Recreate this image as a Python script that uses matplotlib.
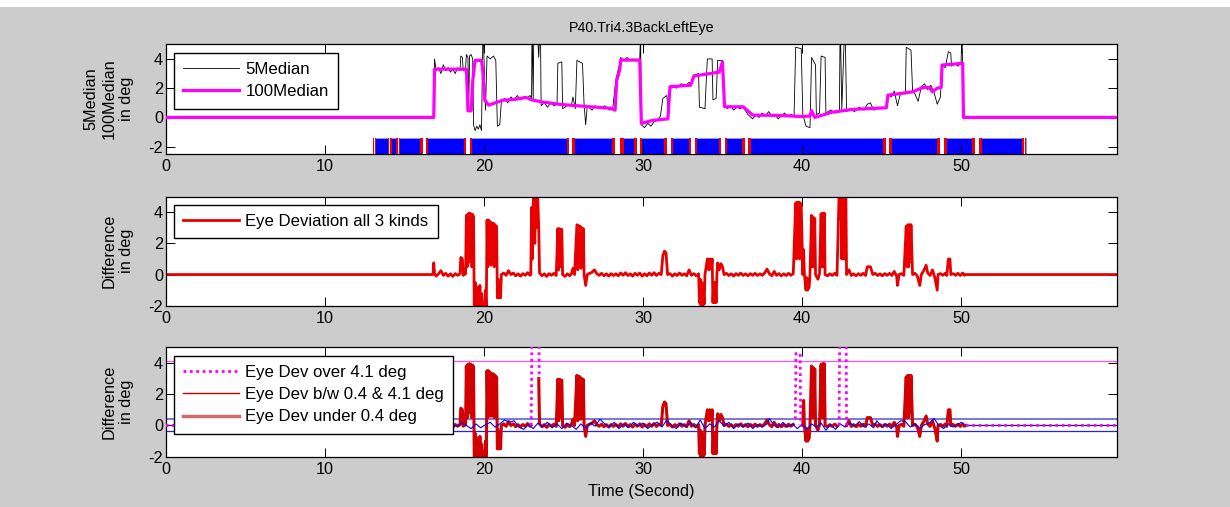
import numpy as np
import matplotlib
matplotlib.use("Agg")
import matplotlib.pyplot as plt
from matplotlib.lines import Line2D
from matplotlib.patches import Rectangle

plt.rcParams['font.family'] = ['Liberation Sans', 'DejaVu Sans']
plt.rcParams['font.size'] = 11.7
plt.rcParams['axes.unicode_minus'] = False

# ---------------- data ----------------
title = "P40.Tri4.3BackLeftEye"
x_max = 59.8
x_ticks = [0, 10, 20, 30, 40, 50]
y_ticks = [-2, 0, 2, 4]

# 100-sample median (magenta)
median100_pts = [
    (0, 0), (16.85, 0), (16.9, 3.3), (18.9, 3.3), (18.95, 2.0), (19.0, 0.45), (19.2, 0.45),
    (19.3, 2.5), (19.45, 3.9), (19.85, 3.9), (19.95, 3.0), (20.05, 1.2), (20.3, 0.84),
    (21.2, 1.18), (21.95, 1.23), (22.65, 1.37), (23.0, 1.2), (23.6, 1.07), (24.8, 0.89),
    (25.85, 0.8), (26.7, 0.73), (28.0, 0.62), (28.25, 0.5), (28.35, 2.5), (28.55, 3.3),
    (28.6, 3.92), (29.8, 3.92), (29.9, -0.41), (30.6, -0.2), (31.57, -0.1), (31.7, 2.1),
    (33.0, 2.2), (33.2, 2.83), (34.2, 3.0), (34.8, 3.1), (35.0, 3.8), (35.13, 0.73),
    (36.3, 0.73), (36.9, 0.16), (38.5, 0.14), (40.0, 0.06), (40.5, 0.1), (40.6, 0.45),
    (40.8, 0.0), (41.9, 0.36), (43.2, 0.55), (45.3, 0.66), (45.4, 1.52), (46.95, 1.75),
    (47.6, 2.05), (48.0, 2.05), (48.2, 1.75), (48.5, 2.0), (48.75, 2.05), (48.8, 3.58),
    (50.1, 3.7), (50.15, 0), (59.8, 0),
]

# 5-sample median (black)
median5_pts = [
    (0, 0), (16.85, 0), (16.9, 4.0), (17.0, 3.2), (17.15, 3.4), (17.3, 3.0), (17.45, 3.6),
    (17.6, 3.2), (17.75, 3.4), (17.9, 3.1), (18.05, 3.3), (18.2, 3.0), (18.35, 3.4), (18.5, 3.2),
    (18.55, 4.2), (18.65, 4.1), (18.7, 3.2), (18.85, 3.3), (18.9, 4.3), (19.0, 4.1), (19.05, 0.6),
    (19.1, 4.2), (19.2, 4.3), (19.3, 4.0), (19.35, -0.5), (19.45, -0.9), (19.55, -0.6),
    (19.65, -0.8), (19.75, -0.5), (19.85, -0.9), (19.95, 6.5), (20.0, 4.3), (20.1, 0.5),
    (20.2, 4.2), (20.4, 4.0), (20.6, 4.2), (20.75, 3.9), (20.85, -0.6), (21.0, -0.5), (21.1, 1.1),
    (21.3, 1.3), (21.5, 1.0), (21.7, 1.4), (21.9, 1.2), (22.1, 1.5), (22.3, 1.2), (22.5, 1.4),
    (22.7, 1.3), (22.9, 1.5), (23.0, 1.3), (23.03, 7), (23.1, 1.2), (23.15, 7), (23.3, 7),
    (23.45, 4.1), (23.55, 7), (23.6, 0.8), (23.8, 1.0), (24.0, 0.7), (24.2, 1.0), (24.4, 0.8),
    (24.6, 0.9), (24.65, 3.7), (24.9, 3.8), (24.95, 0.6), (25.1, 0.7), (25.3, 0.9), (25.5, 0.8),
    (25.6, 1.4), (25.75, 0.6), (25.85, 3.9), (26.2, 3.7), (26.3, 0.9), (26.4, -0.5), (26.5, 0.8),
    (26.8, 0.5), (27.0, 0.8), (27.3, 0.6), (27.6, 0.8), (27.9, 0.5), (28.1, 0.6), (28.3, 2.6),
    (28.5, 3.5), (28.6, 4.1), (28.8, 3.9), (29.0, 4.1), (29.2, 3.9), (29.4, 4.0), (29.6, 3.9),
    (29.8, 4.0), (29.85, 5.8), (29.9, -0.5), (30.1, -0.7), (30.3, -0.4), (30.5, -0.6),
    (30.7, -0.3), (30.9, -0.2), (31.1, 0.1), (31.25, 1.3), (31.5, 1.5), (31.6, 0.2), (31.7, 2.1),
    (31.9, 2.2), (32.1, 2.0), (32.4, 2.3), (32.7, 2.2), (32.9, 2.4), (33.0, 2.2), (33.2, 2.9),
    (33.5, 3.0), (33.55, 0.7), (33.9, 0.6), (34.0, 3.0), (34.05, 4.0), (34.35, 4.0), (34.4, 1.2),
    (34.6, 1.3), (34.7, 3.9), (35.0, 3.9), (35.13, 0.8), (35.3, 0.6), (35.5, 0.8), (35.7, 0.5),
    (35.9, 0.7), (36.1, 0.6), (36.3, 0.7), (36.6, 0.2), (36.9, -0.1), (37.1, 0.2), (37.3, 0.0),
    (37.5, 0.3), (37.7, 0.1), (37.9, 0.4), (38.1, 0.1), (38.3, 0.2), (38.5, -0.1), (38.7, 0.1),
    (38.9, 0.3), (39.1, 0.1), (39.3, 0.2), (39.5, 0.1), (39.6, 4.8), (39.95, 4.7), (40.05, 0.2),
    (40.25, -0.6), (40.5, -0.7), (40.6, 4.1), (40.85, 3.6), (40.9, 0.2), (41.1, 0.3), (41.2, 4.2),
    (41.45, 4.1), (41.5, 0.3), (41.8, 0.5), (42.1, 0.3), (42.35, 0.4), (42.4, 7), (42.5, 0.5),
    (42.7, 7), (42.8, 0.4), (43.0, 0.6), (43.3, 0.4), (43.6, 0.7), (43.9, 0.5), (44.1, 0.9),
    (44.3, 1.0), (44.5, 0.5), (44.8, 0.7), (45.1, 0.6), (45.3, 0.7), (45.4, 1.6), (45.6, 1.4),
    (45.8, 1.8), (46.0, 0.8), (46.2, 1.7), (46.5, 1.6), (46.55, 4.8), (46.85, 4.6), (46.95, 1.8),
    (47.1, 1.6), (47.3, 1.1), (47.5, 2.1), (47.7, 2.3), (47.9, 1.9), (48.1, 2.2), (48.3, 1.7),
    (48.5, 0.9), (48.7, 1.4), (48.8, 3.6), (49.0, 3.4), (49.2, 4.5), (49.35, 4.4), (49.4, 3.5),
    (49.6, 3.7), (49.8, 3.5), (50.0, 3.8), (50.05, 6), (50.1, 3.6), (50.15, 0), (59.8, 0),
]

# eye deviation (difference), all kinds
diff_pts = [
    (0, 0), (16.8, 0), (16.85, 0.75), (16.9, 0.05), (17.0, -0.1), (17.15, 0.05), (17.3, 0.25),
    (17.45, -0.05), (17.6, 0.08), (17.75, -0.1), (17.9, 0.05), (18.05, -0.12), (18.2, 0.06),
    (18.35, -0.05), (18.5, 0.05), (18.55, 1.1), (18.65, 1.0), (18.7, -0.05), (18.85, 0.05),
    (18.9, 3.8), (18.95, 0.5), (19.0, 3.9), (19.05, 0.8), (19.1, 3.95), (19.15, 1.0), (19.2, 3.9),
    (19.25, 0.5), (19.3, 3.85), (19.35, 3.7),
    (19.4, -2.5), (19.45, -0.5), (19.5, -2.5), (19.55, -0.8), (19.6, -2.5), (19.65, -1.0),
    (19.7, -2.5), (19.75, -0.7), (19.8, -2.5), (19.85, -1.2), (19.9, -2.5), (20.0, -2.5),
    (20.1, -1.0), (20.15, -2.5),
    (20.2, 3.5), (20.25, 0.5), (20.3, 3.5), (20.35, 0.8), (20.4, 3.4), (20.45, 0.6), (20.5, 3.3),
    (20.55, 1.0), (20.6, 3.3), (20.65, 0.5), (20.7, 3.2), (20.75, 0.8), (20.8, 3.1),
    (20.85, -1.5), (20.9, -0.3), (20.95, -1.5), (21.0, -0.5), (21.05, -1.5), (21.1, 0.0),
    (21.25, 0.1), (21.4, -0.05), (21.55, 0.25), (21.7, 0.0), (21.85, 0.1), (22.0, -0.08),
    (22.15, 0.05), (22.3, -0.1), (22.45, 0.06), (22.6, -0.05), (22.75, 0.12), (22.9, -0.05),
    (22.95, 0.0),
    (23.0, 4.3), (23.05, 1.0), (23.1, 4.4), (23.15, 6), (23.2, 2.0), (23.25, 6), (23.3, 3.0),
    (23.35, 6), (23.4, 4.5), (23.45, 3.0), (23.5, 0.1),
    (23.65, -0.08), (23.8, 0.05), (23.95, -0.12), (24.1, 0.06), (24.25, -0.05), (24.4, 0.08),
    (24.55, -0.06),
    (24.65, 2.95), (24.7, 0.3), (24.75, 2.95), (24.8, 0.5), (24.85, 2.9), (24.9, 2.9), (24.95, 0.0),
    (25.1, -0.12), (25.25, 0.05), (25.4, -0.08), (25.5, 0.05), (25.6, 0.4), (25.7, 0.0),
    (25.85, 3.2), (25.9, 0.3), (25.95, 3.15), (26.0, 0.5), (26.05, 3.1), (26.1, 0.4), (26.15, 3.0),
    (26.2, 0.5), (26.25, 2.95), (26.3, 0.0), (26.4, -0.7), (26.5, 0.0),
    (26.65, 0.08), (26.8, 0.15), (26.95, 0.3), (27.1, 0.05), (27.25, -0.05), (27.4, 0.08),
    (27.55, -0.08), (27.7, 0.05), (27.85, -0.1), (28.0, 0.06), (28.15, -0.06), (28.3, 0.05),
    (28.45, -0.08), (28.6, 0.1), (28.75, -0.05), (28.9, 0.12), (29.05, -0.06), (29.2, 0.05),
    (29.35, -0.1), (29.5, 0.08), (29.65, -0.05), (29.8, 0.1), (29.95, -0.1), (30.1, 0.05),
    (30.25, -0.08), (30.4, 0.1), (30.55, -0.05), (30.7, 0.12), (30.85, -0.06), (31.0, 0.08),
    (31.15, 0.0),
    (31.25, 1.2), (31.35, 1.5), (31.45, 1.4), (31.55, 0.0),
    (31.7, 0.06), (31.85, -0.1), (32.0, 0.05), (32.15, -0.06), (32.3, 0.1), (32.45, -0.05),
    (32.6, 0.05), (32.75, -0.08), (32.9, 0.3), (33.05, -0.05), (33.2, 0.06), (33.35, -0.08),
    (33.5, 0.05),
    (33.55, -1.8), (33.6, -0.3), (33.65, -2.1), (33.7, -0.5), (33.75, -2.1), (33.8, -1.0),
    (33.85, -1.9), (33.9, 0.0),
    (34.05, 1.0), (34.15, 0.3), (34.2, 1.0), (34.3, 0.4), (34.35, 1.0), (34.4, -1.8), (34.45, -0.5),
    (34.5, -1.8), (34.55, -0.5), (34.6, -1.8), (34.65, 0.0), (34.7, 0.75), (34.8, 0.3),
    (34.9, 0.7), (35.0, 0.5), (35.1, 0.0),
    (35.25, 0.08), (35.4, -0.06), (35.55, 0.05), (35.7, -0.1), (35.85, 0.06), (36.0, -0.05),
    (36.15, 0.1), (36.3, -0.06), (36.45, 0.05), (36.6, -0.08), (36.75, 0.06), (36.9, -0.05),
    (37.05, 0.08), (37.2, -0.06), (37.35, 0.05), (37.5, -0.05), (37.65, 0.1), (37.8, 0.35),
    (37.95, 0.05), (38.1, -0.08), (38.25, 0.2), (38.4, -0.05), (38.55, 0.06), (38.7, -0.08),
    (38.85, 0.05), (39.0, -0.06), (39.15, 0.08), (39.3, -0.05), (39.45, 0.06),
    (39.6, 4.6), (39.65, 1.0), (39.7, 4.65), (39.75, 1.5), (39.8, 4.65), (39.85, 1.0), (39.9, 4.6),
    (39.95, 4.5), (40.05, 0.0),
    (40.1, 1.6), (40.15, 0.0),
    (40.25, -1.0), (40.3, -0.2), (40.35, -1.0), (40.45, -0.8), (40.5, 0.0),
    (40.6, 3.8), (40.65, 0.5), (40.7, 3.7), (40.75, 0.5), (40.8, 3.6), (40.85, 0.0),
    (41.0, -0.3), (41.1, 0.05),
    (41.2, 3.9), (41.25, 0.5), (41.3, 3.95), (41.35, 0.5), (41.4, 3.95), (41.45, 0.0),
    (41.6, -0.08), (41.75, 0.05), (41.9, -0.06), (42.05, 0.08), (42.2, -0.05),
    (42.35, 6), (42.4, 3.6), (42.45, 6), (42.5, 1.0), (42.55, 6), (42.6, 1.0), (42.65, 6),
    (42.7, 1.0), (42.75, 6), (42.8, 0.0),
    (42.95, 0.3), (43.1, -0.06), (43.25, 0.05), (43.4, -0.08), (43.55, 0.06), (43.7, -0.05),
    (43.85, 0.08), (44.0, -0.06), (44.1, 0.5), (44.3, 0.5), (44.45, 0.0), (44.6, 0.08),
    (44.75, -0.06), (44.9, 0.05), (45.05, -0.08), (45.2, 0.06), (45.35, -0.05), (45.5, 0.08),
    (45.65, -0.06), (45.8, 0.2), (45.95, -0.1), (46.0, -0.7), (46.1, 0.0), (46.25, 0.06),
    (46.4, -0.05),
    (46.55, 3.1), (46.6, 0.5), (46.65, 3.2), (46.7, 0.5), (46.75, 3.2), (46.8, 0.8), (46.85, 3.2),
    (46.95, 0.0),
    (47.1, 0.08), (47.25, -0.1), (47.4, -0.7), (47.5, 0.0), (47.65, 0.25), (47.8, 0.6),
    (47.9, 0.1), (48.05, -0.06), (48.2, 0.3), (48.35, -0.2), (48.5, -1.0), (48.55, 0.0),
    (48.7, 0.06), (48.85, -0.05), (49.0, 0.08), (49.1, -0.06), (49.2, 1.0), (49.3, 1.0),
    (49.35, 0.0), (49.5, 0.06), (49.65, -0.05), (49.8, 0.08), (49.95, -0.06), (50.1, 0.1),
    (50.2, -0.05), (50.3, 0.0), (59.8, 0),
]

# deviation over 4.1 deg (magenta dotted), NaN = gap
over_t = [0, 16.8, np.nan, 22.98, 23.02, 23.46, 23.48, np.nan,
          39.58, 39.62, 39.88, 39.92, np.nan, 42.33, 42.37, 42.77, 42.8, np.nan, 50.3, 59.8]
over_v = [0, 0, np.nan, 0.0, 6.0, 6.0, 3.0, np.nan,
          0.4, 4.6, 4.6, 0.0, np.nan, 0.0, 6.0, 6.0, 0.0, np.nan, 0, 0]

# deviation under 0.4 deg (blue)
under_pts = [
    (0, 0), (16.8, 0.0), (17.1, 0.1), (17.4, -0.1), (17.7, 0.05), (18.0, 0.1), (18.3, -0.05),
    (18.6, 0.15), (18.9, 0.0), (19.2, -0.2), (19.5, 0.1), (19.8, -0.15), (20.1, 0.05), (20.4, 0.2),
    (20.7, -0.1), (21.0, 0.1), (21.3, 0.35), (21.6, 0.2), (21.9, 0.3), (22.2, -0.1), (22.5, -0.25),
    (22.8, 0.05), (23.1, -0.2), (23.4, 0.15), (23.7, -0.1), (24.0, 0.2), (24.3, -0.15), (24.6, 0.1),
    (24.9, -0.2), (25.2, 0.15), (25.5, 0.0), (25.8, -0.25), (26.1, 0.1), (26.4, -0.2), (26.7, 0.15),
    (27.0, -0.05), (27.3, 0.4), (27.6, 0.1), (27.9, -0.1), (28.2, 0.2), (28.5, -0.2), (28.8, 0.1),
    (29.1, -0.15), (29.4, 0.2), (29.7, -0.05), (30.0, 0.15), (30.3, -0.2), (30.6, 0.05), (30.9, 0.2),
    (31.2, -0.1), (31.5, 0.35), (31.8, 0.0), (32.1, -0.2), (32.4, 0.15), (32.7, -0.1), (33.0, 0.2),
    (33.3, -0.15), (33.6, 0.35), (33.9, -0.2), (34.2, 0.1), (34.5, -0.1), (34.8, 0.3), (35.1, -0.05),
    (35.4, 0.2), (35.7, -0.2), (36.0, 0.1), (36.3, -0.1), (36.6, 0.15), (36.9, -0.2), (37.2, 0.05),
    (37.5, -0.1), (37.8, 0.1), (37.95, 0.45), (38.2, 0.05), (38.5, -0.15), (38.8, 0.2), (39.1, -0.1),
    (39.4, 0.1), (39.7, -0.2), (40.0, 0.05), (40.3, -0.25), (40.6, 0.1), (40.9, -0.1), (41.2, 0.15),
    (41.5, -0.3), (41.8, 0.05), (42.1, -0.25), (42.4, 0.1), (42.7, -0.1), (43.0, 0.15), (43.3, -0.05),
    (43.6, 0.25), (43.9, -0.1), (44.2, 0.1), (44.5, -0.15), (44.7, 0.3), (45.0, -0.1), (45.3, 0.1),
    (45.6, -0.2), (45.9, 0.05), (46.2, 0.3), (46.5, 0.25), (46.8, -0.1), (47.1, 0.1), (47.4, -0.2),
    (47.7, 0.05), (48.0, 0.15), (48.3, 0.45), (48.6, 0.0), (48.9, -0.2), (49.2, 0.1), (49.5, -0.1),
    (49.8, 0.05), (50.0, 0.2), (50.3, 0.0), (59.8, 0.0),
]

# blink / tracking strip (top panel)
strip_start, strip_end = 13.0, 54.1
strip_bands = [
    (13.0, 13.25), (13.95, 14.2), (14.5, 14.75), (16.0, 16.5), (18.75, 19.25), (25.2, 25.7),
    (28.05, 28.8), (29.45, 29.95), (31.35, 31.9), (32.9, 33.4), (34.75, 35.3), (36.25, 36.8),
    (45.1, 45.65), (48.5, 49.1), (50.7, 51.3), (53.85, 54.1),
]

thr_over = 4.1
thr_hi = 0.4
thr_lo = -0.35
valid_start, valid_end = 16.8, 50.3

# ---------------- figure ----------------
W, H = 1230, 507
fig = plt.figure(figsize=(W / 100, H / 100), dpi=100)
fig.patch.set_facecolor('#cccccc')
fig.add_artist(Rectangle((0, 1 - 7 / H), 1, 7 / H, transform=fig.transFigure,
                         facecolor='white', edgecolor='none', zorder=-5))

L = 165.7 / W
AW = 951.3 / W
ax1 = fig.add_axes([L, 353.0 / H, AW, 109.7 / H])
ax2 = fig.add_axes([L, 201.3 / H, AW, 109.0 / H])
ax3 = fig.add_axes([L, 50.3 / H, AW, 109.4 / H])


def style(ax, ylo):
    ax.set_xlim(0, x_max)
    ax.set_ylim(ylo, 5)
    ax.set_xticks(x_ticks)
    ax.set_yticks(y_ticks)
    ax.tick_params(direction='in', length=6.3, width=0.7, top=True, right=True,
                   colors='black', labelsize=11.7)
    ax.tick_params(axis='x', pad=3.5)
    ax.tick_params(axis='y', pad=1.8)
    for s in ax.spines.values():
        s.set_linewidth(0.9)
        s.set_color('black')
    ax.set_facecolor('white')


def unzip(pts):
    a = np.array(pts, dtype=float)
    return a[:, 0], a[:, 1]


leg_kw = dict(loc='upper left', borderaxespad=0, fancybox=False, framealpha=1,
              edgecolor='black', handlelength=3.3, handletextpad=0.4,
              labelspacing=0.42, borderpad=0.55, fontsize=12.1)

# --- top panel ---
style(ax1, -2.5)
ax1.broken_barh([(strip_start, strip_end - strip_start)], (-2.5, 1.1),
                facecolors='#0000ff', edgecolor='#9a9aff', linewidth=0.6, zorder=1)
ax1.broken_barh([(s, e - s) for s, e in strip_bands], (-2.5, 1.1),
                facecolors='#ee0000', edgecolor='none', zorder=2)
ax1.broken_barh([(s + (e - s) * 0.3, (e - s) * 0.4) for s, e in strip_bands], (-2.5, 1.1),
                facecolors='white', edgecolor='none', zorder=3)
t5, v5 = unzip(median5_pts)
t100, v100 = unzip(median100_pts)
l5, = ax1.plot(t5, v5, color='black', lw=0.6, zorder=4, label='5Median')
l100, = ax1.plot(t100, v100, color='#ff00ff', lw=2.3, zorder=5, label='100Median')
ax1.legend(handles=[l5, l100], bbox_to_anchor=(0.0087, 0.92), **leg_kw)
ax1.set_title(title, fontsize=10.3, pad=9)
ax1.set_ylabel("5Median\n100Median\nin deg", linespacing=1.25)

# --- middle panel ---
style(ax2, -2)
td, vd = unzip(diff_pts)
ld, = ax2.plot(td, vd, color='#e80000', lw=2.0, label='Eye Deviation all 3 kinds')
ax2.legend(handles=[ld], bbox_to_anchor=(0.0087, 0.924), **leg_kw)
ax2.set_ylabel("Difference\nin deg", linespacing=1.25)

# --- bottom panel ---
style(ax3, -2)
ax3.axhline(thr_over, color='#ff50ff', lw=0.9, zorder=1)
ax3.axhline(thr_hi, color='#7777e6', lw=1.4, zorder=1)
ax3.axhline(thr_lo, color='#2020ff', lw=0.9, zorder=1)
mask = (td >= valid_start) & (td <= valid_end) & (vd <= thr_over)
red_v = np.where(mask, vd, np.nan)
ax3.plot(td, red_v, color='#d20000', lw=2.2, zorder=2)
tu, vu = unzip(under_pts)
ax3.plot(tu, vu, color='#0000ff', lw=0.8, zorder=3)
ax3.plot(over_t, over_v, color='#ff00ff', lw=2.0, linestyle=(0, (1, 1.3)), zorder=4)
h_over = Line2D([], [], color='#ff00ff', lw=2.0, linestyle=(0, (1, 1.3)))
h_bw = Line2D([], [], color='#cc0000', lw=1.0)
h_under = Line2D([], [], color='#d46a6a', lw=2.5)
ax3.legend(handles=[h_over, h_bw, h_under],
           labels=['Eye Dev over 4.1 deg', 'Eye Dev b/w 0.4 & 4.1 deg', 'Eye Dev under 0.4 deg'],
           bbox_to_anchor=(0.0087, 0.92), **leg_kw)
ax3.set_ylabel("Difference\nin deg", linespacing=1.25)
ax3.set_xlabel("Time (Second)", labelpad=5)

for ax in (ax1, ax2, ax3):
    ax.yaxis.set_label_coords(-0.033, 0.5)

fig.savefig("out.png", dpi=100, facecolor=fig.get_facecolor())
